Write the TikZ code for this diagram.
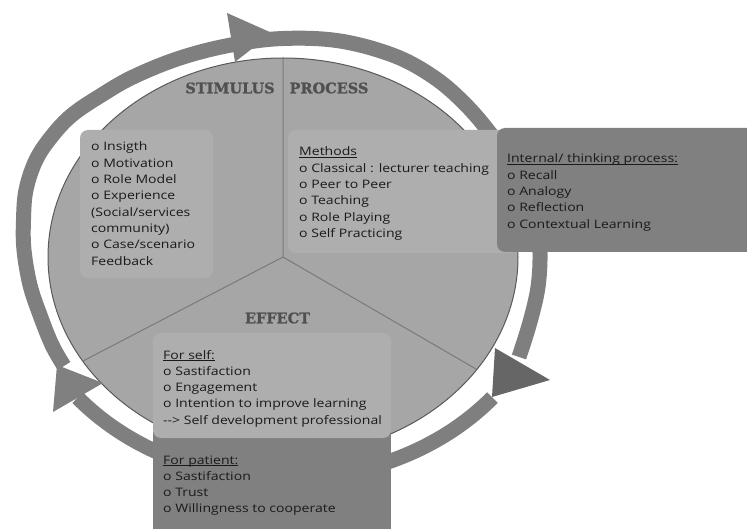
\documentclass[tikz,border=0pt]{standalone}
\usepackage{fontspec}
\setmainfont{Open Sans}[FakeStretch=1.2]
\newfontfamily\headfont{DejaVu Serif}[BoldFont={DejaVu Serif Bold}, BoldFeatures={FakeBold=1.2}]
\usetikzlibrary{calc}
\definecolor{piefill}{HTML}{A6A6A6}
\definecolor{pieline}{HTML}{5A5A5A}
\definecolor{divline}{HTML}{7A7A7A}
\definecolor{lightbox}{HTML}{AEAEAE}
\definecolor{darkbox}{HTML}{808080}
\definecolor{ringcol}{HTML}{7F7F7F}
\definecolor{headdark}{HTML}{666666}
\definecolor{headcol}{HTML}{505050}
\definecolor{txtcol}{HTML}{1A1A1A}
\newcommand\hdline[1]{\underline{\smash{#1}}}
\begin{document}
\begin{tikzpicture}[x=1pt,y=-1pt,
  band/.style={draw=ringcol, line width=15pt},
  lbox/.style={fill=lightbox, rounded corners=8pt},
  dbox/.style={fill=darkbox, rounded corners=8pt},
  body/.style={font=\fontsize{11.7}{16.3}\selectfont, text=txtcol, align=left, anchor=base west, inner sep=0pt},
  head/.style={font=\fontsize{14.5}{16}\selectfont\headfont\bfseries, text=headcol, inner sep=0pt},
]
\useasboundingbox (0,0) rectangle (747,529);
% ring
\draw[band] plot[smooth,tension=0.6] coordinates {(64,366) (52,345) (40,315) (30,285) (24,250) (23.5,220) (26,190) (36,160) (52,136) (72,115) (100,96) (133,77) (180,58) (231,45) (283,38.5) (340,41) (395,56) (435,78) (465,104) (490,133) (512,165) (528,200) (537,230) (540,253) (538,287) (530,322) (519,357)};
\draw[band] (285,257) ++(39.3:268 and 222) arc[start angle=39.3, end angle=140.7, x radius=268, y radius=222];
% pie
\coordinate (pc) at (283,257);
\filldraw[fill=piefill, draw=pieline, line width=1pt] (pc) ellipse [x radius=235, y radius=199];
\draw[divline, line width=1pt] (pc) -- (283,58) (pc) -- (83,361) (pc) -- (476,369);
% arrowheads
\fill[ringcol] (227,13) -- (272,33) -- (235,62) -- cycle;
\fill[headdark] (495,348) -- (550,380) -- (492,397) -- cycle;
\fill[darkbox] (57,365) -- (103,383) -- (53,412) -- cycle;
% headings
\node[head] (hs) at (230,88) {STIMULUS};
\node[head] (hp) at (329,88) {PROCESS};
\node[head] (he) at (277.5,318) {EFFECT};
% boxes
\fill[lbox] (80,130) rectangle (213,278);
\fill[lbox] (288,130) rectangle (520,253);
\fill[dbox] (497,128) rectangle (770,252);
\fill[darkbox] (153,432) rectangle (391,545);
\fill[lbox] (153,333) rectangle (391,438);
% texts (anchor = baseline of the last line)
\node[body] (stim) at (91,265.1) {o Insigth\\o Motivation\\o Role Model\\o Experience\\(Social/services\\community)\\o Case/scenario\\Feedback};
\node[body] (meth) at (299,237.5) {\hdline{Methods}\\o Classical : lecturer teaching\\o Peer to Peer\\o Teaching\\o Role Playing\\o Self Practicing};
\node[body] (intl) at (507,228.2) {\hdline{Internal/ thinking process:}\\o Recall\\o Analogy\\o Reflection\\o Contextual Learning};
\node[body] (self) at (163,424.2) {\hdline{For self:}\\o Sastifaction\\o Engagement\\o Intention to improve learning\\{-}{-}> Self development professional};
\node[body] (pat) at (163,512.9) {\hdline{For patient:}\\o Sastifaction\\o Trust\\o Willingness to cooperate};
\end{tikzpicture}
\end{document}
